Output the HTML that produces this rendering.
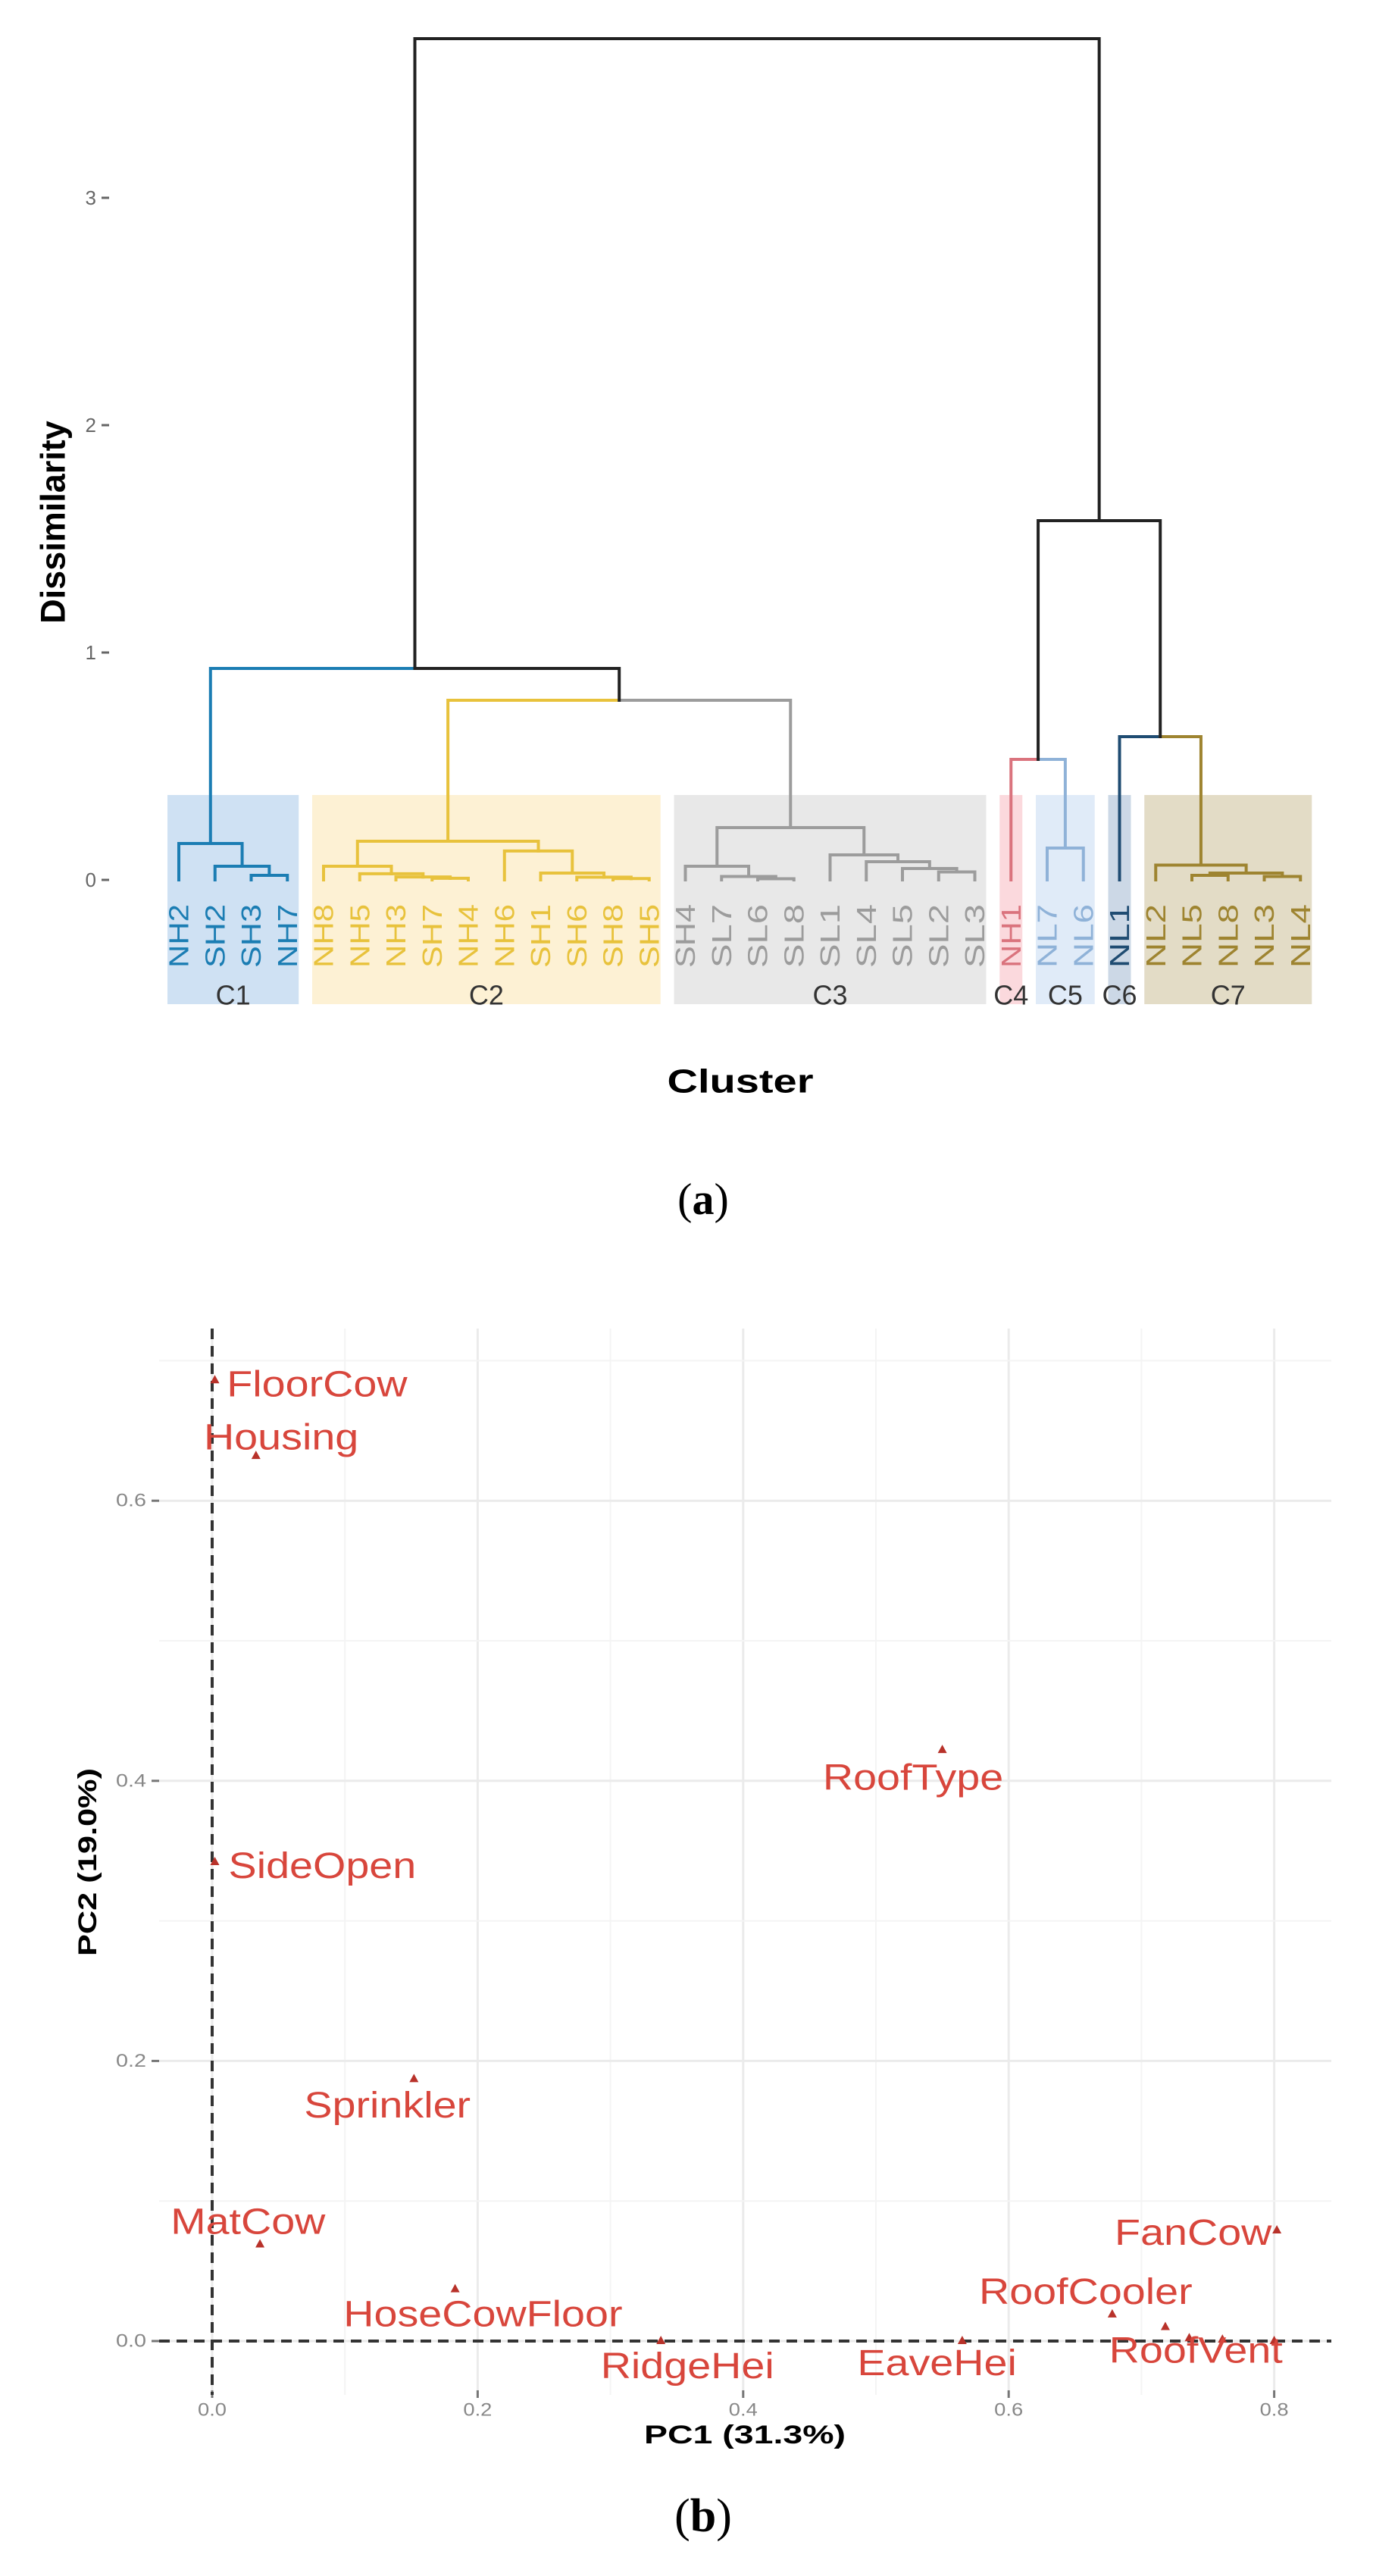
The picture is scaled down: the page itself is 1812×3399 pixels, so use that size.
<!DOCTYPE html>
<html><head><meta charset="utf-8">
<style>
html,body{margin:0;padding:0;background:#fff;}
svg{display:block;}
text{font-family:"Liberation Sans",sans-serif;}
</style></head>
<body>
<svg id="fig" width="1812" height="3399" viewBox="0 0 1812 3399" xmlns="http://www.w3.org/2000/svg">
  <g id="dendro"></g>
  <text x="0" y="0" transform="translate(70,689) rotate(-90)" text-anchor="middle" dominant-baseline="central" font-size="45" font-weight="bold" fill="#000">Dissimilarity</text>
  <text x="977" y="1427" text-anchor="middle" dominant-baseline="central" font-size="44" font-weight="bold" fill="#000" textLength="193" lengthAdjust="spacingAndGlyphs">Cluster</text>
  <text x="928" y="1582" text-anchor="middle" dominant-baseline="central" font-size="58" style="font-family:'Liberation Serif',serif">(<tspan font-weight="bold">a</tspan>)</text>
  <g id="pca"></g>
  <text x="983" y="3213" text-anchor="middle" dominant-baseline="central" font-size="34" font-weight="bold" fill="#000" textLength="266" lengthAdjust="spacingAndGlyphs">PC1 (31.3%)</text>
  <text x="0" y="0" transform="translate(116,2457) rotate(-90)" text-anchor="middle" dominant-baseline="central" font-size="34" font-weight="bold" fill="#000" textLength="248" lengthAdjust="spacingAndGlyphs">PC2 (19.0%)</text>
  <text x="928" y="3320" text-anchor="middle" dominant-baseline="central" font-size="62" style="font-family:'Liberation Serif',serif">(<tspan font-weight="bold">b</tspan>)</text>
</svg>
<script>
// ---------- Dendrogram data ----------
const leafNames = ["NH2","SH2","SH3","NH7","NH8","NH5","NH3","SH7","NH4","NH6","SH1","SH6","SH8","SH5","SH4","SL7","SL6","SL8","SL1","SL4","SL5","SL2","SL3","NH1","NL7","NL6","NL1","NL2","NL5","NL8","NL3","NL4"];
const leafCluster = [0,0,0,0,1,1,1,1,1,1,1,1,1,1,2,2,2,2,2,2,2,2,2,3,4,4,5,6,6,6,6,6];
const clusterNames = ["C1","C2","C3","C4","C5","C6","C7"];
// merges: negative = leaf (-(i+1)), positive = merge number (1-based)
const mergeLeft  = [-3,-2,-1,-8,-7,-6,-5,-13,-12,-11,-10,7,-17,-16,-15,-22,-21,-20,-19,15,12,3,-25,-24,-29,-31,25,-28,-27,24,22];
const mergeRight = [-4,1,2,-9,4,5,6,-14,8,9,10,11,-18,13,14,-23,16,17,18,19,20,21,-26,23,-30,-32,26,27,28,29,30];
const mergeHeight= [0.02,0.06,0.16,0.007,0.013,0.027,0.06,0.006,0.012,0.03,0.127,0.17,0.005,0.015,0.06,0.035,0.05,0.08,0.11,0.23,0.79,0.93,0.14,0.53,0.02,0.015,0.03,0.065,0.63,1.58,3.70];
const dTicks = [0,1,2,3];

// ---------- PCA data ----------
const varNames = ["FloorCow","Housing","RoofType","SideOpen","Sprinkler","MatCow","HoseCowFloor","RidgeHei","EaveHei","FanCow","RoofCooler","RoofVent","","",""];
const pc1 = [0.002,0.033,0.550,0.002,0.152,0.036,0.183,0.338,0.565,0.802,0.678,0.718,0.736,0.761,0.800];
const pc2 = [0.686,0.632,0.422,0.342,0.187,0.069,0.037,0.000,0.000,0.079,0.019,0.010,0.002,0.001,0.000];
const labelPC1 = [0.079,0.052,0.528,0.083,0.132,0.027,0.204,0.358,0.546,0.739,0.658,0.741];
const labelPC2 = [0.683,0.645,0.402,0.339,0.168,0.085,0.019,-0.018,-0.016,0.077,0.035,-0.007];
const xTicks = [0,0.2,0.4,0.6,0.8];
const yTicks = [0,0.2,0.4,0.6];

const NS = "http://www.w3.org/2000/svg";
function mk(tag, attrs, parent){ const e=document.createElementNS(NS,tag); for(const k in attrs) e.setAttribute(k,attrs[k]); parent.appendChild(e); return e; }

// ---------- Dendrogram ----------
const dg = document.getElementById('dendro');
const clusterColor = ["#1b7db3","#e8c23c","#9c9c9c","#da737d","#8fb2d8","#1f4c72","#9e8430"];
const clusterFill  = ["#cfe1f3","#fdf1d4","#e8e8e8","#fbd9dd","#e0ebf8","#ccd8e6","#e3dcc6"];
const xLeaf = i => 236 + 47.75*i;
const yD = h => 1161 - 300*h;

for(let c=0;c<clusterNames.length;c++){
  const idx = leafCluster.map((v,i)=>v===c?i:-1).filter(i=>i>=0);
  const x0 = xLeaf(idx[0])-15, x1 = xLeaf(idx[idx.length-1])+15;
  const r = mk('rect',{x:x0,y:1049,width:x1-x0,height:276,fill:clusterFill[c]},dg);
  
  
  const t = mk('text',{x:(x0+x1)/2,y:1313,'text-anchor':'middle','dominant-baseline':'central','font-size':36,fill:'#333'},dg);
  t.textContent = clusterNames[c];
  
  
}
dTicks.forEach(v=>{
  const t = mk('text',{x:127,y:yD(v),'text-anchor':'end','dominant-baseline':'central','font-size':26,fill:'#666'},dg);
  t.textContent = v;
  
  
  const l = mk('line',{x1:134,x2:144,y1:yD(v),y2:yD(v),stroke:'#666','stroke-width':3},dg);
  
  
});
const nodeX = [], nodeCl = [];
function info(ref){
  if(ref<0){ const i=-ref-1; return {x:xLeaf(i), h:0, cl:leafCluster[i]}; }
  return {x:nodeX[ref-1], h:mergeHeight[ref-1], cl:nodeCl[ref-1]};
}
for(let m=0;m<mergeHeight.length;m++){
  const a=info(mergeLeft[m]), b=info(mergeRight[m]);
  nodeX[m]=(a.x+b.x)/2;
  nodeCl[m]=(a.cl===b.cl)?a.cl:-1;
}
for(let m=0;m<mergeHeight.length;m++){
  const H = mergeHeight[m];
  [mergeLeft[m],mergeRight[m]].forEach((ref,k)=>{
    const c = info(ref);
    const col = c.cl>=0 ? clusterColor[c.cl] : '#222';
    const p = mk('path',{d:`M${c.x},${yD(c.h)} V${yD(H)} H${nodeX[m]}`,fill:'none',stroke:col,'stroke-width':4,'stroke-linecap':'square'},dg);
    
    
  });
}
leafNames.forEach((n,i)=>{
  const t = mk('text',{transform:`translate(${xLeaf(i)},1193) rotate(-90)`,'text-anchor':'end','dominant-baseline':'central','font-size':36,fill:clusterColor[leafCluster[i]],textLength:84,lengthAdjust:'spacingAndGlyphs'},dg);
  t.textContent = n;
  
  
});

// ---------- PCA ----------
const pg = document.getElementById('pca');
const xP = v => 280 + 1752*v;
const yP = v => 3089 - 1848*v;
const L=210, R=1757, T=1753, B=3160;
for(let k=0;k<=8;k++){
  const v=k/10, x=xP(v);
  const g = mk('line',{x1:x,x2:x,y1:T,y2:B,stroke:(k%2?'#f4f4f4':'#ebebeb'),'stroke-width':(k%2?2:3)},pg);
  
  
}
for(let k=0;k<=7;k++){
  const v=k/10, y=yP(v);
  const g = mk('line',{x1:L,x2:R,y1:y,y2:y,stroke:(k%2?'#f4f4f4':'#ebebeb'),'stroke-width':(k%2?2:3)},pg);
  
  
}
xTicks.forEach(v=>{
  const t = mk('text',{x:xP(v),y:3180,'text-anchor':'middle','dominant-baseline':'central','font-size':24,fill:'#888',textLength:38,lengthAdjust:'spacingAndGlyphs'},pg);
  t.textContent = v.toFixed(1);
  
  
  const l = mk('line',{x1:xP(v),x2:xP(v),y1:B-6,y2:B+4,stroke:'#777','stroke-width':3},pg);
  
  
});
yTicks.forEach(v=>{
  const t = mk('text',{x:193,y:yP(v),'text-anchor':'end','dominant-baseline':'central','font-size':24,fill:'#888',textLength:40,lengthAdjust:'spacingAndGlyphs'},pg);
  t.textContent = v.toFixed(1);
  
  
  const l = mk('line',{x1:200,x2:210,y1:yP(v),y2:yP(v),stroke:'#777','stroke-width':3},pg);
  
  
});
const hz = mk('line',{x1:L,x2:R,y1:yP(0),y2:yP(0),stroke:'#333','stroke-width':4,'stroke-dasharray':'14 9'},pg);


const vz = mk('line',{x1:xP(0),x2:xP(0),y1:T,y2:B,stroke:'#333','stroke-width':4,'stroke-dasharray':'14 9'},pg);


pc1.forEach((v,i)=>{
  const x=xP(v), y=yP(pc2[i]);
  const p = mk('path',{d:`M${x},${y-7} L${x+6},${y+4} L${x-6},${y+4} Z`,fill:'#b8322a'},pg);
  
  
});
labelPC1.forEach((v,i)=>{
  const t = mk('text',{x:xP(v),y:yP(labelPC2[i]),'text-anchor':'middle','dominant-baseline':'central','font-size':48,fill:'#d8463c'},pg);
  t.textContent = varNames[i];
  
  
  const w = t.getComputedTextLength();
  if(w>0){ t.setAttribute('textLength', (w*1.16).toFixed(1)); t.setAttribute('lengthAdjust','spacingAndGlyphs'); }
});
</script>
</body></html>
